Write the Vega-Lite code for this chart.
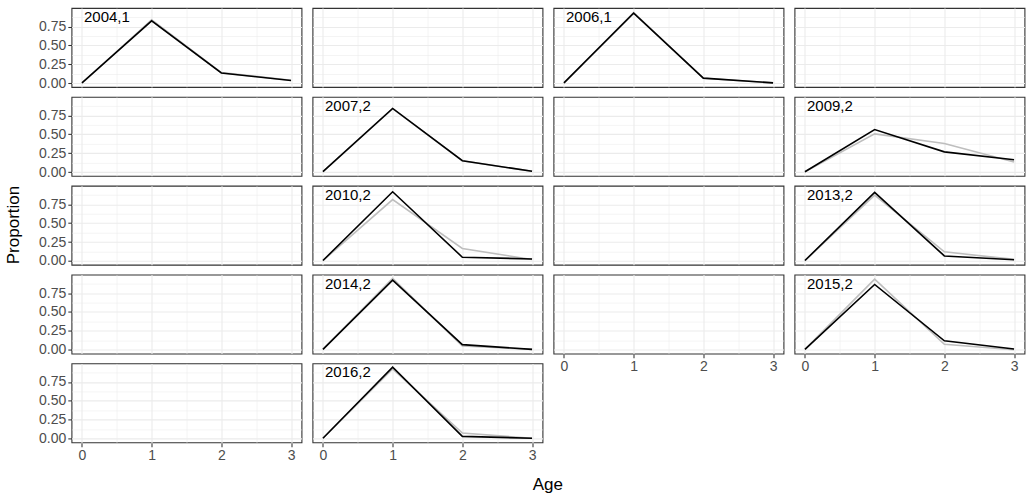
{
  "$schema": "https://vega.github.io/schema/vega-lite/v6.json",
  "padding": {"left": 3.5, "top": 7, "right": 0, "bottom": 0},
  "background": "white",
  "title": {"text": "Age", "orient": "bottom", "anchor": "middle", "dx": 33, "offset": 14, "fontSize": 17, "fontWeight": "normal", "font": "Liberation Sans", "color": "#000000"},
  "data": {"values": [
    {"panel": 1, "label": "2004,1", "series": "pred", "age": 0, "prop": 0.0},
    {"panel": 1, "label": "2004,1", "series": "pred", "age": 1, "prop": 0.84},
    {"panel": 1, "label": "2004,1", "series": "pred", "age": 2, "prop": 0.14},
    {"panel": 1, "label": "2004,1", "series": "pred", "age": 3, "prop": 0.04},
    {"panel": 1, "label": "2004,1", "series": "obs", "age": 0, "prop": 0.005},
    {"panel": 1, "label": "2004,1", "series": "obs", "age": 1, "prop": 0.825},
    {"panel": 1, "label": "2004,1", "series": "obs", "age": 2, "prop": 0.135},
    {"panel": 1, "label": "2004,1", "series": "obs", "age": 3, "prop": 0.037},
    {"panel": 2, "label": "", "series": null, "age": null, "prop": null},
    {"panel": 3, "label": "2006,1", "series": "pred", "age": 0, "prop": 0.0},
    {"panel": 3, "label": "2006,1", "series": "pred", "age": 1, "prop": 0.935},
    {"panel": 3, "label": "2006,1", "series": "pred", "age": 2, "prop": 0.065},
    {"panel": 3, "label": "2006,1", "series": "pred", "age": 3, "prop": 0.005},
    {"panel": 3, "label": "2006,1", "series": "obs", "age": 0, "prop": 0.005},
    {"panel": 3, "label": "2006,1", "series": "obs", "age": 1, "prop": 0.926},
    {"panel": 3, "label": "2006,1", "series": "obs", "age": 2, "prop": 0.067},
    {"panel": 3, "label": "2006,1", "series": "obs", "age": 3, "prop": 0.004},
    {"panel": 4, "label": "", "series": null, "age": null, "prop": null},
    {"panel": 5, "label": "", "series": null, "age": null, "prop": null},
    {"panel": 6, "label": "2007,2", "series": "pred", "age": 0, "prop": 0.005},
    {"panel": 6, "label": "2007,2", "series": "pred", "age": 1, "prop": 0.84},
    {"panel": 6, "label": "2007,2", "series": "pred", "age": 2, "prop": 0.15},
    {"panel": 6, "label": "2007,2", "series": "pred", "age": 3, "prop": 0.01},
    {"panel": 6, "label": "2007,2", "series": "obs", "age": 0, "prop": 0.005},
    {"panel": 6, "label": "2007,2", "series": "obs", "age": 1, "prop": 0.842},
    {"panel": 6, "label": "2007,2", "series": "obs", "age": 2, "prop": 0.15},
    {"panel": 6, "label": "2007,2", "series": "obs", "age": 3, "prop": 0.01},
    {"panel": 7, "label": "", "series": null, "age": null, "prop": null},
    {"panel": 8, "label": "2009,2", "series": "pred", "age": 0, "prop": 0.005},
    {"panel": 8, "label": "2009,2", "series": "pred", "age": 1, "prop": 0.505},
    {"panel": 8, "label": "2009,2", "series": "pred", "age": 2, "prop": 0.379},
    {"panel": 8, "label": "2009,2", "series": "pred", "age": 3, "prop": 0.132},
    {"panel": 8, "label": "2009,2", "series": "obs", "age": 0, "prop": 0.005},
    {"panel": 8, "label": "2009,2", "series": "obs", "age": 1, "prop": 0.563},
    {"panel": 8, "label": "2009,2", "series": "obs", "age": 2, "prop": 0.267},
    {"panel": 8, "label": "2009,2", "series": "obs", "age": 3, "prop": 0.163},
    {"panel": 9, "label": "", "series": null, "age": null, "prop": null},
    {"panel": 10, "label": "2010,2", "series": "pred", "age": 0, "prop": 0.005},
    {"panel": 10, "label": "2010,2", "series": "pred", "age": 1, "prop": 0.812},
    {"panel": 10, "label": "2010,2", "series": "pred", "age": 2, "prop": 0.165},
    {"panel": 10, "label": "2010,2", "series": "pred", "age": 3, "prop": 0.018},
    {"panel": 10, "label": "2010,2", "series": "obs", "age": 0, "prop": 0.005},
    {"panel": 10, "label": "2010,2", "series": "obs", "age": 1, "prop": 0.915},
    {"panel": 10, "label": "2010,2", "series": "obs", "age": 2, "prop": 0.049},
    {"panel": 10, "label": "2010,2", "series": "obs", "age": 3, "prop": 0.026},
    {"panel": 11, "label": "", "series": null, "age": null, "prop": null},
    {"panel": 12, "label": "2013,2", "series": "pred", "age": 0, "prop": 0.005},
    {"panel": 12, "label": "2013,2", "series": "pred", "age": 1, "prop": 0.87},
    {"panel": 12, "label": "2013,2", "series": "pred", "age": 2, "prop": 0.12},
    {"panel": 12, "label": "2013,2", "series": "pred", "age": 3, "prop": 0.02},
    {"panel": 12, "label": "2013,2", "series": "obs", "age": 0, "prop": 0.005},
    {"panel": 12, "label": "2013,2", "series": "obs", "age": 1, "prop": 0.907},
    {"panel": 12, "label": "2013,2", "series": "obs", "age": 2, "prop": 0.066},
    {"panel": 12, "label": "2013,2", "series": "obs", "age": 3, "prop": 0.015},
    {"panel": 13, "label": "", "series": null, "age": null, "prop": null},
    {"panel": 14, "label": "2014,2", "series": "pred", "age": 0, "prop": 0.005},
    {"panel": 14, "label": "2014,2", "series": "pred", "age": 1, "prop": 0.945},
    {"panel": 14, "label": "2014,2", "series": "pred", "age": 2, "prop": 0.05},
    {"panel": 14, "label": "2014,2", "series": "pred", "age": 3, "prop": 0.005},
    {"panel": 14, "label": "2014,2", "series": "obs", "age": 0, "prop": 0.005},
    {"panel": 14, "label": "2014,2", "series": "obs", "age": 1, "prop": 0.922},
    {"panel": 14, "label": "2014,2", "series": "obs", "age": 2, "prop": 0.068},
    {"panel": 14, "label": "2014,2", "series": "obs", "age": 3, "prop": 0.005},
    {"panel": 15, "label": "", "series": null, "age": null, "prop": null},
    {"panel": 16, "label": "2015,2", "series": "pred", "age": 0, "prop": 0.005},
    {"panel": 16, "label": "2015,2", "series": "pred", "age": 1, "prop": 0.935},
    {"panel": 16, "label": "2015,2", "series": "pred", "age": 2, "prop": 0.073},
    {"panel": 16, "label": "2015,2", "series": "pred", "age": 3, "prop": 0.0},
    {"panel": 16, "label": "2015,2", "series": "obs", "age": 0, "prop": 0.005},
    {"panel": 16, "label": "2015,2", "series": "obs", "age": 1, "prop": 0.864},
    {"panel": 16, "label": "2015,2", "series": "obs", "age": 2, "prop": 0.118},
    {"panel": 16, "label": "2015,2", "series": "obs", "age": 3, "prop": 0.01},
    {"panel": 17, "label": "", "series": null, "age": null, "prop": null},
    {"panel": 18, "label": "2016,2", "series": "pred", "age": 0, "prop": 0.005},
    {"panel": 18, "label": "2016,2", "series": "pred", "age": 1, "prop": 0.923},
    {"panel": 18, "label": "2016,2", "series": "pred", "age": 2, "prop": 0.074},
    {"panel": 18, "label": "2016,2", "series": "pred", "age": 3, "prop": 0.005},
    {"panel": 18, "label": "2016,2", "series": "obs", "age": 0, "prop": 0.005},
    {"panel": 18, "label": "2016,2", "series": "obs", "age": 1, "prop": 0.945},
    {"panel": 18, "label": "2016,2", "series": "obs", "age": 2, "prop": 0.03},
    {"panel": 18, "label": "2016,2", "series": "obs", "age": 3, "prop": 0.005}
  ]},
  "spacing": 9,
  "hconcat": [
    {
      "transform": [{"filter": "(datum.panel - 1) % 4 === 0"}],
      "facet": {"row": {"field": "panel", "type": "ordinal", "sort": "ascending",
        "header": {"labels": false, "title": "Proportion", "titleFontSize": 17, "titleFontWeight": "normal", "titleFont": "Liberation Sans", "titleColor": "#000000", "titlePadding": 6}}},
      "spacing": {"row": 9.85},
      "bounds": "flush",
      "spec": {
        "width": 230, "height": 79,
        "encoding": {
          "x": {"field": "age", "type": "quantitative", "title": null,
            "scale": {"domain": [-0.15, 3.15], "nice": false, "zero": false},
            "axis": {"values": [0, 0.5, 1, 1.5, 2, 2.5, 3],
              "labelExpr": "datum.value % 1 === 0 ? format(datum.value, 'd') : ''",
              "tickOpacity": {"condition": {"test": "datum.value % 1 !== 0", "value": 0}, "value": 1},
              "gridWidth": {"condition": {"test": "datum.value % 1 !== 0", "value": 0.55}, "value": 1.1},
              "labelOverlap": false, "labelBound": false, "labelFlush": false}},
          "y": {"field": "prop", "type": "quantitative", "title": null,
            "scale": {"domain": [-0.05, 0.995], "nice": false, "zero": false},
            "axis": {"values": [0, 0.125, 0.25, 0.375, 0.5, 0.625, 0.75, 0.875],
              "labelExpr": "datum.value % 0.25 === 0 ? format(datum.value, '.2f') : ''",
              "tickOpacity": {"condition": {"test": "datum.value % 0.25 !== 0", "value": 0}, "value": 1},
              "gridWidth": {"condition": {"test": "datum.value % 0.25 !== 0", "value": 0.55}, "value": 1.1},
              "labelOverlap": false, "labelBound": false, "labelFlush": false}}
        },
        "layer": [
          {"transform": [{"filter": "datum.series === 'pred'"}], "mark": {"type": "line", "color": "#BEBEBE", "strokeWidth": 1.6}},
          {"transform": [{"filter": "datum.series === 'obs'"}], "mark": {"type": "line", "color": "#000000", "strokeWidth": 1.6}},
          {"transform": [{"filter": "datum.series === 'obs' && datum.age === 0"}],
           "mark": {"type": "text", "align": "left", "baseline": "alphabetic", "dx": 2, "fontSize": 15, "font": "Liberation Sans", "color": "#000000"},
           "encoding": {"x": {"datum": 0, "type": "quantitative"}, "y": {"datum": 0.81, "type": "quantitative"}, "text": {"field": "label"}}}
        ]
      }
    },
    {
      "transform": [{"filter": "(datum.panel - 1) % 4 === 1"}],
      "facet": {"row": {"field": "panel", "type": "ordinal", "sort": "ascending", "header": {"labels": false, "title": null}}},
      "spacing": {"row": 9.85},
      "bounds": "flush",
      "spec": {
        "width": 230, "height": 79,
        "encoding": {
          "x": {"field": "age", "type": "quantitative", "title": null,
            "scale": {"domain": [-0.15, 3.15], "nice": false, "zero": false},
            "axis": {"values": [0, 0.5, 1, 1.5, 2, 2.5, 3],
              "labelExpr": "datum.value % 1 === 0 ? format(datum.value, 'd') : ''",
              "tickOpacity": {"condition": {"test": "datum.value % 1 !== 0", "value": 0}, "value": 1},
              "gridWidth": {"condition": {"test": "datum.value % 1 !== 0", "value": 0.55}, "value": 1.1},
              "labelOverlap": false, "labelBound": false, "labelFlush": false}},
          "y": {"field": "prop", "type": "quantitative", "title": null,
            "scale": {"domain": [-0.05, 0.995], "nice": false, "zero": false},
            "axis": {"values": [0, 0.125, 0.25, 0.375, 0.5, 0.625, 0.75, 0.875],
              "labels": false, "ticks": false,
              "gridWidth": {"condition": {"test": "datum.value % 0.25 !== 0", "value": 0.55}, "value": 1.1}}}
        },
        "layer": [
          {"transform": [{"filter": "datum.series === 'pred'"}], "mark": {"type": "line", "color": "#BEBEBE", "strokeWidth": 1.6}},
          {"transform": [{"filter": "datum.series === 'obs'"}], "mark": {"type": "line", "color": "#000000", "strokeWidth": 1.6}},
          {"transform": [{"filter": "datum.series === 'obs' && datum.age === 0"}],
           "mark": {"type": "text", "align": "left", "baseline": "alphabetic", "dx": 2, "fontSize": 15, "font": "Liberation Sans", "color": "#000000"},
           "encoding": {"x": {"datum": 0, "type": "quantitative"}, "y": {"datum": 0.81, "type": "quantitative"}, "text": {"field": "label"}}}
        ]
      }
    },
    {
      "transform": [{"filter": "(datum.panel - 1) % 4 === 2"}],
      "facet": {"row": {"field": "panel", "type": "ordinal", "sort": "ascending", "header": {"labels": false, "title": null}}},
      "spacing": {"row": 9.85},
      "bounds": "flush",
      "spec": {
        "width": 230, "height": 79,
        "encoding": {
          "x": {"field": "age", "type": "quantitative", "title": null,
            "scale": {"domain": [-0.15, 3.15], "nice": false, "zero": false},
            "axis": {"values": [0, 0.5, 1, 1.5, 2, 2.5, 3],
              "labelExpr": "datum.value % 1 === 0 ? format(datum.value, 'd') : ''",
              "tickOpacity": {"condition": {"test": "datum.value % 1 !== 0", "value": 0}, "value": 1},
              "gridWidth": {"condition": {"test": "datum.value % 1 !== 0", "value": 0.55}, "value": 1.1},
              "labelOverlap": false, "labelBound": false, "labelFlush": false}},
          "y": {"field": "prop", "type": "quantitative", "title": null,
            "scale": {"domain": [-0.05, 0.995], "nice": false, "zero": false},
            "axis": {"values": [0, 0.125, 0.25, 0.375, 0.5, 0.625, 0.75, 0.875],
              "labels": false, "ticks": false,
              "gridWidth": {"condition": {"test": "datum.value % 0.25 !== 0", "value": 0.55}, "value": 1.1}}}
        },
        "layer": [
          {"transform": [{"filter": "datum.series === 'pred'"}], "mark": {"type": "line", "color": "#BEBEBE", "strokeWidth": 1.6}},
          {"transform": [{"filter": "datum.series === 'obs'"}], "mark": {"type": "line", "color": "#000000", "strokeWidth": 1.6}},
          {"transform": [{"filter": "datum.series === 'obs' && datum.age === 0"}],
           "mark": {"type": "text", "align": "left", "baseline": "alphabetic", "dx": 2, "fontSize": 15, "font": "Liberation Sans", "color": "#000000"},
           "encoding": {"x": {"datum": 0, "type": "quantitative"}, "y": {"datum": 0.81, "type": "quantitative"}, "text": {"field": "label"}}}
        ]
      }
    },
    {
      "transform": [{"filter": "(datum.panel - 1) % 4 === 3"}],
      "facet": {"row": {"field": "panel", "type": "ordinal", "sort": "ascending", "header": {"labels": false, "title": null}}},
      "spacing": {"row": 9.85},
      "bounds": "flush",
      "spec": {
        "width": 230, "height": 79,
        "encoding": {
          "x": {"field": "age", "type": "quantitative", "title": null,
            "scale": {"domain": [-0.15, 3.15], "nice": false, "zero": false},
            "axis": {"values": [0, 0.5, 1, 1.5, 2, 2.5, 3],
              "labelExpr": "datum.value % 1 === 0 ? format(datum.value, 'd') : ''",
              "tickOpacity": {"condition": {"test": "datum.value % 1 !== 0", "value": 0}, "value": 1},
              "gridWidth": {"condition": {"test": "datum.value % 1 !== 0", "value": 0.55}, "value": 1.1},
              "labelOverlap": false, "labelBound": false, "labelFlush": false}},
          "y": {"field": "prop", "type": "quantitative", "title": null,
            "scale": {"domain": [-0.05, 0.995], "nice": false, "zero": false},
            "axis": {"values": [0, 0.125, 0.25, 0.375, 0.5, 0.625, 0.75, 0.875],
              "labels": false, "ticks": false,
              "gridWidth": {"condition": {"test": "datum.value % 0.25 !== 0", "value": 0.55}, "value": 1.1}}}
        },
        "layer": [
          {"transform": [{"filter": "datum.series === 'pred'"}], "mark": {"type": "line", "color": "#BEBEBE", "strokeWidth": 1.6}},
          {"transform": [{"filter": "datum.series === 'obs'"}], "mark": {"type": "line", "color": "#000000", "strokeWidth": 1.6}},
          {"transform": [{"filter": "datum.series === 'obs' && datum.age === 0"}],
           "mark": {"type": "text", "align": "left", "baseline": "alphabetic", "dx": 2, "fontSize": 15, "font": "Liberation Sans", "color": "#000000"},
           "encoding": {"x": {"datum": 0, "type": "quantitative"}, "y": {"datum": 0.81, "type": "quantitative"}, "text": {"field": "label"}}}
        ]
      }
    }
  ],
  "config": {
    "font": "Liberation Sans",
    "view": {"stroke": "#333333", "strokeWidth": 1.1},
    "header": {"labels": false},
    "headerRow": {"labels": false},
    "axis": {
      "domain": false,
      "grid": true,
      "gridColor": "#EBEBEB",
      "tickColor": "#333333",
      "tickWidth": 1.07,
      "tickSize": 3.7,
      "labelPadding": 2,
      "labelColor": "#4D4D4D",
      "labelFontSize": 14,
      "labelFont": "Liberation Sans"
    }
  }
}
